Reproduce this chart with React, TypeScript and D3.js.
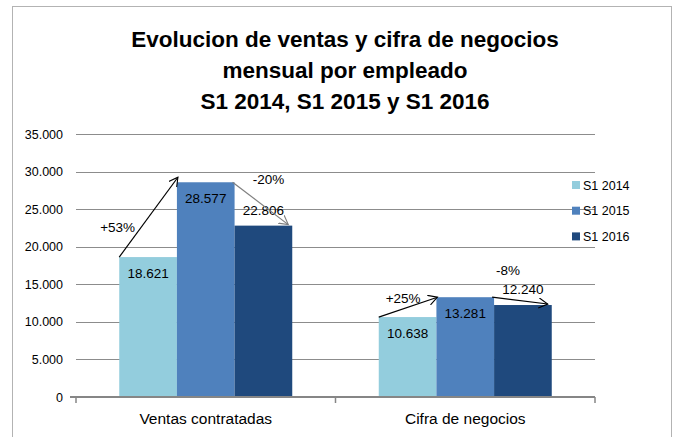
import React from "react";
import * as d3 from "d3";

const categories = ["Ventas contratadas", "Cifra de negocios"];
const seriesNames = ["S1 2014", "S1 2015", "S1 2016"];
const seriesColors = ["#93CDDD", "#4F81BD", "#1F497D"];
const s2014 = [18621, 10638];
const s2015 = [28577, 13281];
const s2016 = [22806, 12240];
const yTicks = [0, 5000, 10000, 15000, 20000, 25000, 30000, 35000];
const titleLines = ["Evolucion de ventas y cifra de negocios", "mensual por empleado", "S1 2014, S1 2015 y S1 2016"];
// labels placed above bar (outside) for these [category, series]
const outsideLabels = [[0, 2], [1, 2]];
// arrows: category, from series, to series, label
const arrowCat = [0, 0, 1, 1];
const arrowFrom = [0, 1, 0, 1];
const arrowTo = [1, 2, 1, 2];
const arrowLabels = ["+53%", "-20%", "+25%", "-8%"];

const W = 678, H = 437;
const FONT = "'Liberation Sans', Arial, sans-serif";

export default function App() {
  const series = [s2014, s2015, s2016];
  const x0 = d3.scaleBand().domain(categories).range([76, 595]).paddingInner(0).paddingOuter(0);
  const bw = x0.bandwidth();
  const barW = bw / (3 + 1.5);
  const gap = (bw - 3 * barW) / 2;
  const y = d3.scaleLinear().domain([0, 35000]).range([397, 134]);
  const fmt = (v: number) => d3.format(",")(v).replace(/,/g, ".");
  const barX = (ci: number, si: number) => (x0(categories[ci]) as number) + gap + si * barW;

  const arrows = arrowLabels.map((lab, i) => {
    const c = arrowCat[i], f = arrowFrom[i], t = arrowTo[i];
    const up = series[t][c] > series[f][c];
    let x1, y1, x2, y2;
    if (up) {
      x1 = barX(c, f); y1 = y(series[f][c]);
      x2 = barX(c, t) + 1; y2 = y(series[t][c]) - (i === 0 ? 5 : 0);
    } else {
      x1 = barX(c, t) - 2; y1 = y(series[f][c]);
      x2 = barX(c, t) + barW - 4; y2 = y(series[t][c]) - 1;
    }
    const mx = (x1 + x2) / 2, my = (y1 + y2) / 2;
    const offs = [[-31, 15], [8, -19], [-5, -4], [-12, -26]][i];
    return { x1, y1, x2, y2, lx: mx + offs[0], ly: my + offs[1], lab, color: i === 1 ? "#7F7F7F" : "#000" };
  });

  return (
    <svg width={W} height={H} style={{ position: "absolute", left: 0, top: 0 }}>
      <defs>
        <marker id="ah-k" markerUnits="userSpaceOnUse" markerWidth="12" markerHeight="12" refX="9" refY="5" orient="auto">
          <path d="M0,0 L9,5 L0,10" fill="none" stroke="#000" strokeWidth="1.1" />
        </marker>
        <marker id="ah-g" markerUnits="userSpaceOnUse" markerWidth="12" markerHeight="12" refX="9" refY="5" orient="auto">
          <path d="M0,0 L9,5 L0,10" fill="none" stroke="#7F7F7F" strokeWidth="1.1" />
        </marker>
      </defs>
      <rect x={0} y={0} width={W} height={H} fill="#fff" />
      <rect x={12.5} y={6.5} width={659} height={440} fill="none" stroke="#B3B3B3" strokeWidth={1} />
      {titleLines.map((t, i) => (
        <text key={i} x={345} y={47 + i * 31} textAnchor="middle" fontFamily={FONT} fontWeight="bold" fontSize={22.5} fill="#000">{t}</text>
      ))}
      {yTicks.map((t) => (
        <g key={t}>
          {t > 0 && <line x1={76} x2={595} y1={Math.round(y(t)) + 0.5} y2={Math.round(y(t)) + 0.5} stroke="#8C8C8C" strokeWidth={1} />}
          <text x={63} y={y(t) + 4.5} textAnchor="end" fontFamily={FONT} fontSize={12.5} fill="#000">{fmt(t)}</text>
        </g>
      ))}
      {categories.map((c, ci) =>
        series.map((s, si) => (
          <rect key={c + si} x={barX(ci, si)} y={y(s[ci])} width={barW} height={y(0) - y(s[ci])} fill={seriesColors[si]} />
        ))
      )}
      <line x1={70} x2={595} y1={397} y2={397} stroke="#868686" strokeWidth={2} />
      {[76, 76 + bw, 595].map((tx, i) => (
        <line key={i} x1={tx} x2={tx} y1={397} y2={403} stroke="#868686" strokeWidth={1.5} />
      ))}
      {categories.map((c) => (
        <text key={c} x={(x0(c) as number) + bw / 2} y={424} textAnchor="middle" fontFamily={FONT} fontSize={15.5} fill="#000">{c}</text>
      ))}
      {categories.map((c, ci) =>
        series.map((s, si) => {
          const out = outsideLabels.some(([a, b]) => a === ci && b === si);
          const ty = out ? y(s[ci]) - 11 : y(s[ci]) + 20.5;
          return (
            <text key={"l" + c + si} x={barX(ci, si) + barW / 2} y={ty} textAnchor="middle" fontFamily={FONT} fontSize={13.5} fill="#000">{fmt(s[ci])}</text>
          );
        })
      )}
      {arrows.map((a, i) => (
        <g key={"a" + i}>
          <line x1={a.x1} y1={a.y1} x2={a.x2} y2={a.y2} stroke={a.color} strokeWidth={1.2} markerEnd={`url(#${a.color === "#000" ? "ah-k" : "ah-g"})`} />
          <text x={a.lx} y={a.ly} textAnchor="middle" fontFamily={FONT} fontSize={13.5} fill="#000">{a.lab}</text>
        </g>
      ))}
      {seriesNames.map((n, i) => (
        <g key={n}>
          <rect x={572} y={181 + i * 25.7} width={8} height={8} fill={seriesColors[i]} />
          <text x={583} y={189.5 + i * 25.7} fontFamily={FONT} fontSize={12.5} fill="#000">{n}</text>
        </g>
      ))}
    </svg>
  );
}
